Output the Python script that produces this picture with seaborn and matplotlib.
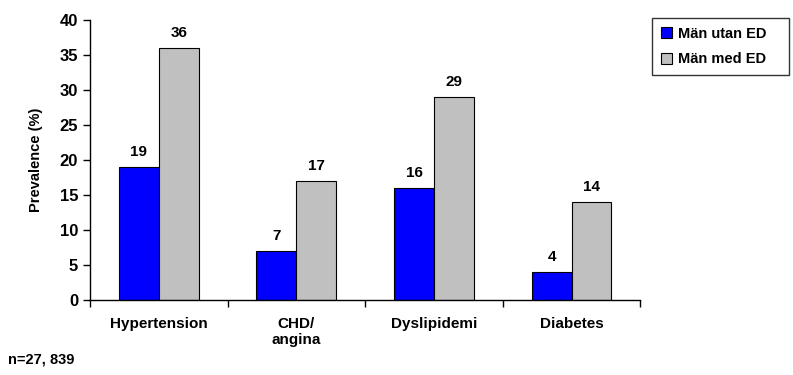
import pandas as pd
import numpy as np
import matplotlib
matplotlib.use("Agg")
import matplotlib.pyplot as plt
import seaborn as sns

# data
categories = ["Hypertension", "CHD/\nangina", "Dyslipidemi", "Diabetes"]
utan_ed = [19, 7, 16, 4]
med_ed = [36, 17, 29, 14]
series_names = ["Män utan ED", "Män med ED"]
colors = ["#0000FF", "#C0C0C0"]

df = pd.DataFrame({
    "category": categories * 2,
    "value": utan_ed + med_ed,
    "group": [series_names[0]] * 4 + [series_names[1]] * 4,
})

sns.set_style("white")
plt.rcParams["font.family"] = ["Liberation Sans", "DejaVu Sans"]
plt.rcParams["font.weight"] = "bold"
plt.rcParams["text.color"] = "black"
plt.rcParams["axes.labelcolor"] = "black"
plt.rcParams["xtick.color"] = "black"
plt.rcParams["ytick.color"] = "black"

fig = plt.figure(figsize=(7.93, 3.75), dpi=100)
ax = fig.add_axes([0.1135, 0.2, 0.694, 0.7467])

sns.barplot(data=df, x="category", y="value", hue="group", palette=colors,
            saturation=1, width=0.58, edgecolor="black", linewidth=0.8,
            ax=ax, legend=True)

for cont in ax.containers:
    ax.bar_label(cont, fmt="%d", padding=6, fontsize=11, fontweight="bold")

ax.set_ylim(0, 40)
ax.set_xlim(-0.5, len(categories) - 0.5)
ax.set_yticks(range(0, 41, 5))
ax.set_xlabel("")
ax.set_ylabel("Prevalence (%)", fontsize=10.5, fontweight="bold", labelpad=12)

# tick marks sit between the categories
ax.set_xticks(np.arange(-0.5, len(categories), 1.0), minor=True)
ax.tick_params(axis="x", which="major", bottom=False, length=0, pad=12, labelsize=11)
ax.tick_params(axis="x", which="minor", bottom=True, length=5, width=1, direction="out")
ax.tick_params(axis="y", left=True, length=5, width=1, direction="out", labelsize=12)
for lab in ax.get_xticklabels() + ax.get_yticklabels():
    lab.set_fontweight("bold")

for side in ["top", "right"]:
    ax.spines[side].set_visible(False)
for side in ["left", "bottom"]:
    ax.spines[side].set_color("black")
    ax.spines[side].set_linewidth(1)

leg = ax.legend(loc="upper left", bbox_to_anchor=(0.822, 0.80, 0.173, 0.152),
                bbox_transform=fig.transFigure, mode="expand",
                frameon=True, fancybox=False, edgecolor="black", fontsize=10.5,
                handlelength=0.8, handleheight=0.8, handletextpad=0.4,
                borderpad=0.6, labelspacing=0.8, borderaxespad=0)
leg.get_frame().set_linewidth(1)
for t in leg.get_texts():
    t.set_fontweight("bold")

fig.text(0.01, 0.03, "n=27, 839", fontsize=10.5, fontweight="bold")

fig.savefig("out.png", dpi=100)
